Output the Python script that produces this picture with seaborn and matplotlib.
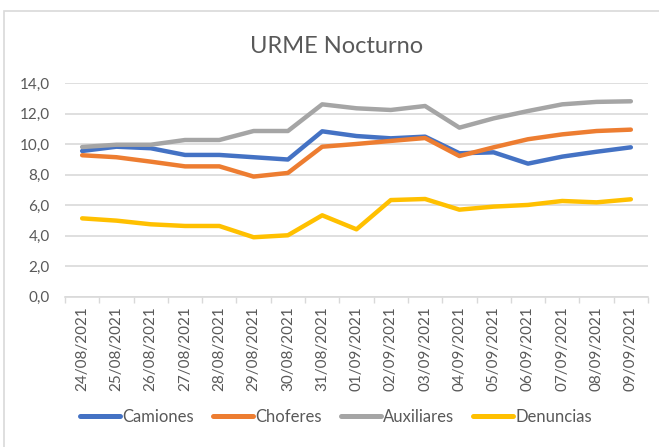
import pandas as pd
import matplotlib.pyplot as plt
import seaborn as sns
from matplotlib.ticker import FuncFormatter, FixedLocator
from matplotlib.patches import Rectangle

fechas = ["24/08/2021", "25/08/2021", "26/08/2021", "27/08/2021", "28/08/2021",
          "29/08/2021", "30/08/2021", "31/08/2021", "01/09/2021", "02/09/2021",
          "03/09/2021", "04/09/2021", "05/09/2021", "06/09/2021", "07/09/2021",
          "08/09/2021", "09/09/2021"]

camiones = [9.56, 9.84, 9.74, 9.30, 9.30, 9.15, 9.00, 10.85, 10.54, 10.39,
            10.50, 9.41, 9.47, 8.73, 9.19, 9.51, 9.80]
choferes = [9.28, 9.15, 8.86, 8.55, 8.55, 7.88, 8.12, 9.84, 10.02, 10.22,
            10.41, 9.23, 9.80, 10.33, 10.65, 10.87, 10.96]
auxiliares = [9.82, 9.97, 9.97, 10.28, 10.28, 10.87, 10.87, 12.62, 12.36, 12.25,
              12.51, 11.09, 11.70, 12.18, 12.62, 12.78, 12.82]
denuncias = [5.14, 4.99, 4.75, 4.64, 4.64, 3.90, 4.03, 5.34, 4.42, 6.34,
             6.41, 5.71, 5.91, 6.02, 6.28, 6.19, 6.39]

series = ["Camiones", "Choferes", "Auxiliares", "Denuncias"]
colores = ["#4472C4", "#ED7D31", "#A5A5A5", "#FFC000"]

rows = []
for nombre, vals in zip(series, [camiones, choferes, auxiliares, denuncias]):
    for i, v in enumerate(vals):
        rows.append({"idx": i, "valor": v, "serie": nombre})
df = pd.DataFrame(rows)

sns.set_style("white")
plt.rcParams["font.family"] = ["Lato", "DejaVu Sans"]
gris = "#595959"

fig = plt.figure(figsize=(6.59, 4.47), dpi=100)
ax = fig.add_axes([65 / 659, 1 - 296.7 / 447, 583 / 659, 213.4 / 447])

sns.lineplot(data=df, x="idx", y="valor", hue="serie", hue_order=series,
             palette=colores, linewidth=3.2, ax=ax, legend=True)

ax.set_ylim(0, 14)
ax.set_xlim(-0.5, len(fechas) - 0.5)
ax.set_yticks([0, 2, 4, 6, 8, 10, 12, 14])
ax.yaxis.set_major_formatter(FuncFormatter(lambda v, p: f"{v:.1f}".replace(".", ",")))
ax.set_xticks(range(len(fechas)))
ax.set_xticklabels(fechas, rotation=90)
ax.xaxis.set_minor_locator(FixedLocator([i - 0.5 for i in range(len(fechas) + 1)]))
ax.tick_params(axis="x", which="major", length=0, pad=7, labelsize=11, labelcolor=gris)
ax.tick_params(axis="x", which="minor", length=4, color="#D9D9D9", width=1, bottom=True)
ax.tick_params(axis="y", length=0, pad=11, labelsize=11, labelcolor=gris)
ax.grid(axis="y", color="#D9D9D9", linewidth=1.2)
ax.set_axisbelow(True)
ax.set_xlabel("")
ax.set_ylabel("")
for s in ["left", "top", "right"]:
    ax.spines[s].set_visible(False)
ax.spines["bottom"].set_color("#D9D9D9")
ax.spines["bottom"].set_linewidth(1.2)

handles, labels = ax.get_legend_handles_labels()
ax.get_legend().remove()
leg = fig.legend(handles, labels, loc="center", bbox_to_anchor=(336 / 659, 1 - 417 / 447),
                 ncol=4, frameon=False, fontsize=12, handlelength=2.4,
                 handletextpad=0.12, columnspacing=1.15, labelcolor=gris)
for h in leg.get_lines():
    h.set_linewidth(3.6)

fig.text(337 / 659, 1 - 53.3 / 447, "URME Nocturno", ha="center", va="baseline",
         fontsize=17, color=gris)

fig.patches.append(Rectangle((4 / 659, -0.05), 2, 1.05 - 11 / 447,
                             transform=fig.transFigure, fill=False,
                             edgecolor="#D9D9D9", linewidth=1.2))

fig.savefig("out.png", dpi=100)
